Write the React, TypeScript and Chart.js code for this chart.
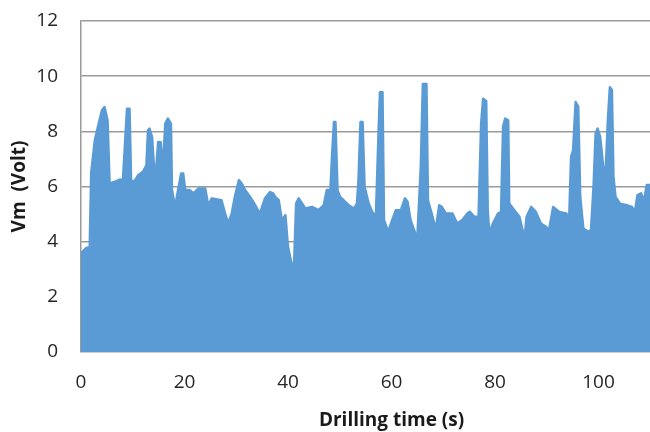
import React, { useEffect, useRef } from 'react';
import { Chart, registerables } from 'chart.js';

Chart.register(...registerables);

// Drilling time (s) of envelope samples
const timeS = [
  0, 0.99, 1.68, 1.97, 2.67, 3.26, 4.05, 4.54, 5.13, 5.53, 6.52, 7.50, 8.10, 8.49, 8.89, 9.38, 9.68, 10.37, 11.06, 11.95,
  12.64, 12.94, 13.23, 13.73, 14.12, 14.52, 14.91, 15.40, 15.80, 16.29, 16.79, 17.38, 17.58, 18.17, 18.76, 19.35, 19.75, 20.14, 21.03, 21.72,
  22.71, 23.99, 24.59, 25.28, 27.15, 27.85, 28.44, 29.13, 29.72, 30.51, 31.10, 31.70, 32.68, 33.67, 34.56, 35.55, 36.54, 37.13, 37.52, 38.21,
  38.81, 39.50, 39.99, 40.68, 41.18, 41.57, 42.06, 42.76, 43.35, 44.63, 45.92, 46.90, 47.50, 48.19, 48.48, 48.88, 49.17, 49.57, 50.06, 50.75,
  51.74, 52.73, 53.32, 53.62, 54.01, 54.41, 54.80, 55.59, 56.28, 56.98, 57.47, 57.77, 58.26, 58.55, 59.35, 60.13, 60.83, 61.81, 62.60, 63.10,
  63.69, 64.38, 64.97, 65.66, 66.06, 66.75, 67.05, 67.94, 68.53, 69.22, 69.71, 70.50, 71.79, 72.68, 73.66, 74.65, 75.14, 76.03, 76.82, 77.32,
  77.71, 78.30, 78.60, 78.89, 79.59, 80.58, 81.17, 81.56, 81.96, 82.55, 82.75, 83.73, 84.72, 85.71, 86.10, 86.99, 87.88, 88.87, 89.86, 90.45,
  91.24, 92.42, 93.81, 94.30, 94.70, 95.09, 95.58, 96.08, 96.47, 97.07, 98.05, 98.55, 99.04, 99.44, 99.83, 100.32, 100.92, 101.41, 101.81, 102.20,
  102.59, 102.89, 103.29, 104.17, 105.46, 106.45, 107.04, 107.53, 108.22, 108.82, 109.31, 110.00, 111.50,
];

// Vm (Volt) envelope values
const voltsV = [
  3.58, 3.77, 3.80, 6.50, 7.67, 8.16, 8.76, 8.88, 8.40, 6.11, 6.17, 6.25, 6.23, 7.50, 8.82, 8.82, 6.20, 6.20, 6.41, 6.53,
  6.77, 8.04, 8.10, 7.80, 6.65, 6.65, 7.61, 7.60, 6.65, 8.28, 8.46, 8.28, 5.87, 5.26, 5.87, 6.47, 6.47, 5.87, 5.87, 5.75,
  5.93, 5.93, 5.32, 5.57, 5.50, 5.02, 4.66, 5.02, 5.62, 6.23, 6.10, 5.87, 5.62, 5.32, 5.02, 5.57, 5.80, 5.75, 5.62, 5.50,
  4.78, 4.96, 3.82, 3.21, 3.21, 5.38, 5.57, 5.38, 5.20, 5.26, 5.14, 5.32, 5.87, 5.87, 7.00, 8.34, 8.34, 5.87, 5.62, 5.50,
  5.32, 5.20, 5.38, 6.23, 8.34, 8.34, 5.99, 5.38, 5.08, 4.90, 7.80, 9.42, 9.42, 4.78, 4.36, 4.78, 5.14, 5.14, 5.57, 5.45,
  4.78, 4.42, 4.06, 6.71, 9.72, 9.72, 5.50, 4.90, 4.42, 5.32, 5.26, 5.02, 5.02, 4.66, 4.78, 5.02, 5.08, 4.90, 4.90, 8.28,
  9.18, 9.10, 5.14, 4.30, 4.66, 5.02, 5.08, 8.16, 8.46, 8.40, 5.38, 5.14, 4.90, 4.12, 4.90, 5.26, 5.08, 4.66, 4.54, 4.42,
  5.26, 5.08, 5.02, 4.66, 7.07, 7.31, 9.06, 8.90, 5.62, 4.48, 4.36, 4.42, 5.99, 7.92, 8.10, 7.80, 6.71, 6.65, 8.40, 9.60,
  9.50, 6.35, 5.62, 5.38, 5.32, 5.26, 5.08, 5.69, 5.75, 5.50, 6.05, 6.05, 6.05,
];

const xAxisMin = 0;
const xAxisMax = 120;
const xStep = 20;
const yAxisMin = 0;
const yAxisMax = 12;
const yStep = 2;

const xTitle = 'Drilling time (s)';
const yTitle = 'Vm  (Volt)';

const FILL = '#5B9BD5';
const FONT = '"Open Sans", Lato, sans-serif';

export default function App() {
  const ref = useRef<HTMLCanvasElement>(null);

  useEffect(() => {
    if (!ref.current) return;
    const points = timeS.map((t, i) => ({ x: t, y: voltsV[i] }));
    const chart = new Chart(ref.current, {
      type: 'line',
      data: {
        datasets: [
          {
            data: points,
            borderColor: FILL,
            backgroundColor: FILL,
            fill: 'origin',
            borderWidth: 2.5,
            borderJoinStyle: 'round',
            borderCapStyle: 'round',
            pointRadius: 0,
            tension: 0,
          },
        ],
      },
      options: {
        responsive: false,
        animation: false,
        layout: { padding: { left: 0, top: 21, right: 18, bottom: 0 } },
        plugins: { legend: { display: false }, tooltip: { enabled: false } },
        scales: {
          x: {
            type: 'linear',
            min: xAxisMin,
            max: xAxisMax,
            ticks: {
              stepSize: xStep,
              padding: 19,
              color: '#262626',
              font: { family: FONT, size: 19 },
              maxRotation: 0,
            },
            grid: { display: false, drawTicks: false },
            border: { display: false },
            title: {
              display: true,
              text: xTitle,
              color: '#1a1a1a',
              font: { family: FONT, size: 19, weight: 'bold' },
              padding: { top: 0, bottom: 0 },
            },
            afterFit: (s: any) => {
              s.height = 80;
              s.paddingLeft = 0;
              s.paddingRight = 0;
            },
          },
          y: {
            min: yAxisMin,
            max: yAxisMax,
            ticks: {
              stepSize: yStep,
              padding: 23,
              color: '#262626',
              font: { family: FONT, size: 19 },
            },
            grid: { color: '#9a9a9a', lineWidth: 1.5, drawTicks: false },
            border: { display: true, color: '#9a9a9a', width: 1.5 },
            title: {
              display: true,
              text: yTitle,
              color: '#1a1a1a',
              font: { family: FONT, size: 19, weight: 'bold' },
              padding: { top: 8, bottom: 0 },
            },
            afterFit: (s: any) => {
              s.width = 81;
              s.paddingTop = 0;
              s.paddingBottom = 0;
            },
          },
        },
      },
    });
    return () => chart.destroy();
  }, []);

  return (
    <div
      style={{
        position: 'fixed',
        left: 0,
        top: 0,
        width: 650,
        height: 432,
        overflow: 'hidden',
        background: '#fff',
      }}
    >
      <canvas ref={ref} width={720} height={432} style={{ display: 'block' }} />
    </div>
  );
}
